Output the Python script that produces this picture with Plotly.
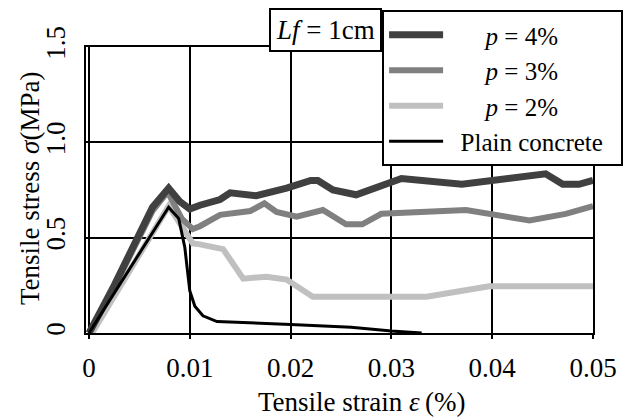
import plotly.graph_objects as go

# Data (strain in %, stress in MPa)
p4_strain = [0, 0.0025, 0.0063, 0.0079, 0.009, 0.010, 0.011, 0.013, 0.014, 0.0166, 0.0196, 0.022, 0.0227, 0.0242, 0.0265, 0.031, 0.037, 0.0453, 0.047, 0.0486, 0.050]
p4_stress = [0, 0.25, 0.66, 0.76, 0.69, 0.65, 0.67, 0.70, 0.735, 0.72, 0.76, 0.80, 0.80, 0.75, 0.725, 0.81, 0.78, 0.835, 0.78, 0.78, 0.80]

p3_strain = [0, 0.0025, 0.0063, 0.0078, 0.0092, 0.0103, 0.011, 0.013, 0.016, 0.0174, 0.0186, 0.0206, 0.0232, 0.0255, 0.0271, 0.029, 0.0374, 0.0437, 0.0473, 0.050]
p3_stress = [0, 0.24, 0.64, 0.74, 0.60, 0.545, 0.56, 0.62, 0.64, 0.68, 0.635, 0.61, 0.645, 0.57, 0.57, 0.625, 0.645, 0.59, 0.625, 0.665]

p2_strain = [0.0003, 0.0079, 0.0103, 0.011, 0.0133, 0.0153, 0.0176, 0.0196, 0.0222, 0.0335, 0.0397, 0.050]
p2_stress = [0, 0.665, 0.47, 0.465, 0.44, 0.285, 0.295, 0.28, 0.19, 0.19, 0.245, 0.245]

plain_strain = [0, 0.0079, 0.0089, 0.0095, 0.010, 0.0105, 0.0113, 0.0127, 0.020, 0.026, 0.030, 0.033]
plain_stress = [0, 0.66, 0.60, 0.45, 0.22, 0.14, 0.09, 0.06, 0.045, 0.03, 0.01, 0]

x_ticks = [0, 0.01, 0.02, 0.03, 0.04, 0.05]
x_ticklabels = ["0", "0.01", "0.02", "0.03", "0.04", "0.05"]
y_ticks = [0, 0.5, 1.0, 1.5]
y_ticklabels = ["0", "0.5", "1.0", "1.5"]

FONT = "Times New Roman"
NB = "\u00a0"

def tf(size=27, family=FONT):
    return dict(family=family, size=size, color="black")

fig = go.Figure()
# drawing order: p2 (bottom), p3, p4, plain (top); legend rank sets legend order
series = [
    (p2_strain, p2_stress, NB * 6 + "<i>p</i> = 2%", "#c0c0c0", 6, 3),
    (p3_strain, p3_stress, NB * 6 + "<i>p</i> = 3%", "#808080", 6, 2),
    (p4_strain, p4_stress, NB * 6 + "<i>p</i> = 4%", "#404040", 7, 1),
    (plain_strain, plain_stress, NB * 2 + "Plain concrete" + NB * 2, "#000000", 3, 4),
]
for xs, ys, name, color, w, rank in series:
    fig.add_trace(go.Scatter(x=xs, y=ys, mode="lines", name=name,
                             legendrank=rank,
                             line=dict(color=color, width=w)))

fig.update_layout(
    width=630, height=417,
    margin=dict(l=86, r=37, t=47, b=84, autoexpand=False),
    paper_bgcolor="white", plot_bgcolor="white",
    font=tf(),
    showlegend=True,
    legend=dict(x=0.584, y=1.129, xanchor="left", yanchor="top",
                bgcolor="white", bordercolor="black", borderwidth=2,
                traceorder="normal",
                itemwidth=54, font=tf(size=25)),
    xaxis=dict(range=[-0.0003, 0.05], tickvals=x_ticks, ticktext=x_ticklabels,
               showgrid=True, gridcolor="black", gridwidth=2,
               showline=True, linecolor="black", linewidth=2, mirror=True,
               ticks="outside", ticklen=4, tickcolor="black", tickwidth=2,
               ticklabelstandoff=6, zeroline=False, automargin=False,
               tickfont=tf()),
    yaxis=dict(range=[0, 1.5], tickvals=y_ticks, ticktext=y_ticklabels,
               showgrid=True, gridcolor="black", gridwidth=2,
               showline=True, linecolor="black", linewidth=2, mirror=True,
               ticks="", tickangle=-90, ticklabelstandoff=8, zeroline=False,
               automargin=False, tickfont=tf(family="serif")),
    annotations=[
        dict(text="<i>Lf</i>" + NB + "=" + NB + "1cm", xref="paper", yref="paper",
             x=0.473, y=1.059, xanchor="center", yanchor="middle",
             showarrow=False, bgcolor="white", bordercolor="black",
             borderwidth=2, borderpad=5, font=tf()),
        dict(text="Tensile strain <i>\u03b5</i>\u2009(%)", xref="paper", yref="paper",
             x=(362 - 86) / 507, y=-(402 - 333) / 286, xanchor="center", yanchor="middle",
             showarrow=False, font=tf()),
        dict(text="Tensile stress <i>\u03c3</i>(MPa)", xref="paper", yref="paper",
             x=-(86 - 30) / 507, y=(333 - 189) / 286, xanchor="center", yanchor="middle",
             textangle=-90, showarrow=False, font=tf()),
    ],
)

fig.write_html("out.html", config={"displayModeBar": False},
               post_script="document.body.style.margin='0';")
